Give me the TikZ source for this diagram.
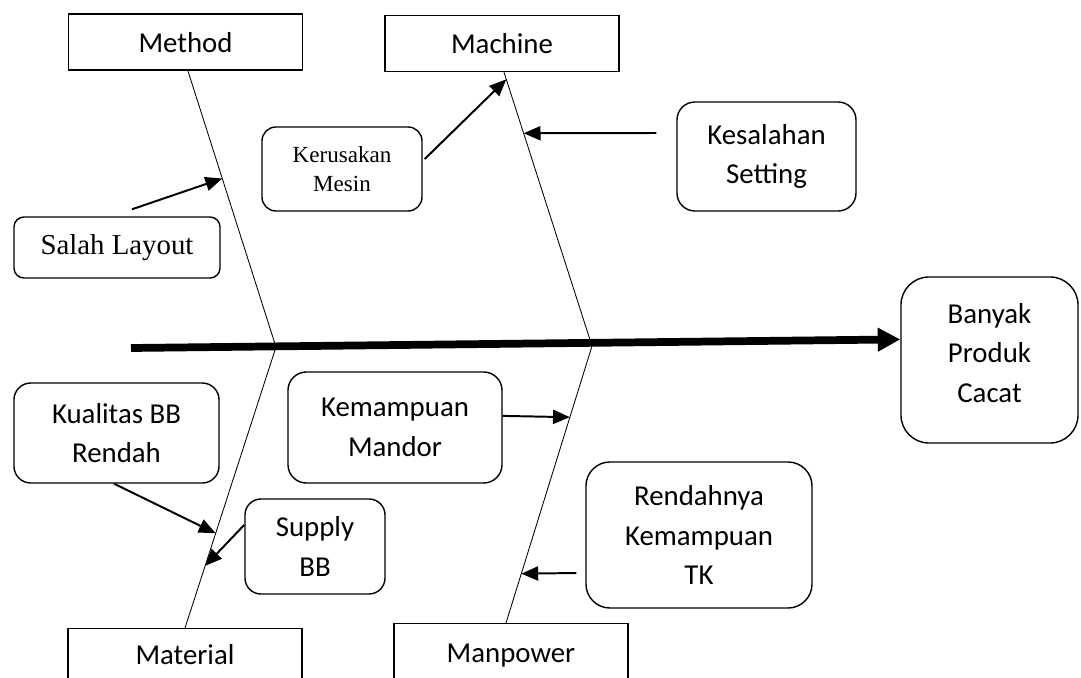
\documentclass[tikz,border=0pt]{standalone}
\usepackage{fontspec}
\setmainfont{Carlito}
\newfontfamily\timesfont{Liberation Serif}
\usetikzlibrary{arrows.meta, calc}

\begin{document}
\begin{tikzpicture}[
  x=0.025cm, y=-0.025cm,
  catbox/.style={
    draw, line width=1pt, inner sep=0pt,
    minimum width=5.85cm, minimum height=1.4cm, font=\fontsize{20.5}{28}\selectfont
  },
  cause/.style={
    draw, line width=1pt, rounded corners=#1, inner sep=0pt,
    align=center, font=\fontsize{20.5}{28}\selectfont
  },
  cause/.default=0.45cm,
  spine/.style={line width=0.6pt},
  arr/.style={-{Triangle[length=12pt, width=10pt]}, line width=1.4pt},
  bone/.style={-{Triangle[length=16pt, width=16pt]}, line width=5.5pt}
]
  \useasboundingbox (0,0) rectangle (1081,678);

  % category boxes
  \node[catbox, text depth=-2pt] (method) at (185.5,42) {Method};
  \node[catbox, text depth=-2pt] (machine) at (502,43.5) {Machine};
  \node[catbox, anchor=north, text height=14pt, text depth=30pt, inner ysep=11.6pt]
    (material) at (185,628) {Material};
  \node[catbox, anchor=north, text height=14pt, text depth=30pt, inner ysep=13.7pt]
    (manpower) at (511,623) {Manpower};

  % effect
  \node[cause=0.7cm, minimum width=4.425cm, minimum height=4.15cm, text depth=10pt]
    (banyak) at (989.5,360) {Banyak\\Produk\\Cacat};

  % causes
  \node[cause=0.25cm, minimum width=5.15cm, minimum height=1.525cm, font=\timesfont\fontsize{20.5}{24}\selectfont]
    (salah) at (117,247.5) {Salah Layout};
  \node[cause=0.35cm, minimum width=4cm, minimum height=2.1cm, font=\timesfont\fontsize{16.4}{21}\selectfont]
    (kerusakan) at (342,169) {Kerusakan\\Mesin};
  \node[cause, minimum width=4.475cm, minimum height=2.725cm]
    (kesalahan) at (766.5,156.5) {Kesalahan\\Setting};
  \node[cause=0.42cm, minimum width=5.125cm, minimum height=2.5cm]
    (kualitas) at (116.5,433) {Kualitas BB\\Rendah};
  \node[cause=0.4cm, minimum width=3.5cm, minimum height=2.375cm, text depth=-7pt]
    (supply) at (315,546.5) {Supply\\BB};
  \node[cause=0.46cm, minimum width=5.35cm, minimum height=2.775cm]
    (mandor) at (395,427.5) {Kemampuan\\Mandor};
  \node[cause=0.6cm, minimum width=5.65cm, minimum height=3.65cm]
    (rendah) at (699,535) {Rendahnya\\Kemampuan\\TK};

  % spines
  \coordinate (jA) at (276,347);
  \coordinate (jB) at (592,346);
  \draw[spine] ([xshift=0.06cm]method.south) -- (jA) -- (material.north);
  \draw[spine] ([xshift=0.05cm]machine.south) -- (jB) -- ([xshift=-0.125cm]manpower.north);

  % points on the spines
  \coordinate (pSalah) at ($([xshift=0.06cm]method.south)!0.39!(jA)$);
  \coordinate (pRusak) at ($([xshift=0.05cm]machine.south)!0.026!(jB)$);
  \coordinate (pSetting) at ($([xshift=0.05cm]machine.south)!0.223!(jB)$);
  \coordinate (pKualitas) at ($(jA)!0.663!(material.north)$);
  \coordinate (pSupply) at ($(jA)!0.779!(material.north)$);
  \coordinate (pMandor) at ($(jB)!0.257!([xshift=-0.125cm]manpower.north)$);
  \coordinate (pTK) at ($(jB)!0.822!([xshift=-0.125cm]manpower.north)$);

  % main bone
  \coordinate (tail) at (131,348);
  \draw[bone] (tail) -- (banyak.167);

  % cause arrows
  \draw[arr] ([shift={(15,-7)}]salah.north) -- (pSalah);
  \draw[arr] ([shift={(2,-10)}]kerusakan.east) -- (pRusak);
  \draw[arr] ([shift={(-20,-23.5)}]kesalahan.west) -- (pSetting);
  \draw[arr] ([xshift=-0.06cm]kualitas.south) -- (pKualitas);
  \draw[arr] ([yshift=0.54cm]supply.west) -- (pSupply);
  \draw[arr] ([yshift=0.29cm]mandor.east) -- (pMandor);
  \draw[arr] ([shift={(-9,38)}]rendah.west) -- (pTK);
\end{tikzpicture}
\end{document}
